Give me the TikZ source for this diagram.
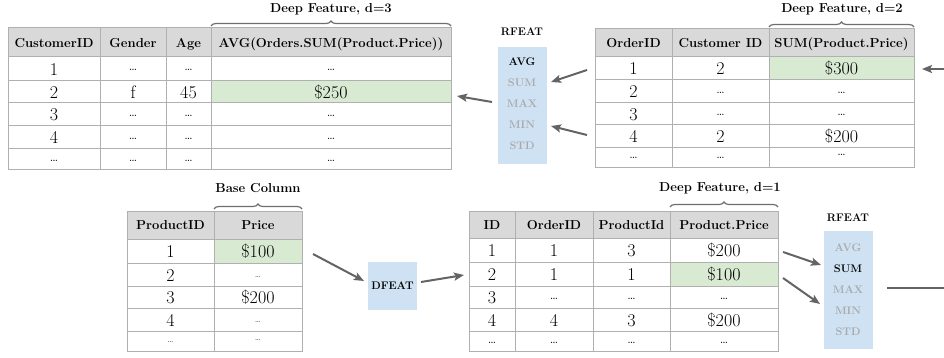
\documentclass[tikz,border=0pt]{standalone}
\usetikzlibrary{arrows.meta,decorations.pathreplacing}
\definecolor{hdrgray}{HTML}{D9D9D9}
\definecolor{gridgray}{HTML}{B0B0B0}
\definecolor{cellgreen}{HTML}{D9EAD3}
\definecolor{opblue}{HTML}{CFE2F3}
\definecolor{offgray}{HTML}{A9A9A9}
\definecolor{arrgray}{HTML}{646464}
\definecolor{bracegray}{HTML}{6E6E6E}
\tikzset{
  hdr/.style={font=\fontsize{13}{15}\selectfont\bfseries, inner sep=0pt, anchor=base},
  val/.style={font=\fontsize{18}{20}\selectfont, inner sep=0pt, anchor=base},
  dts/.style={font=\fontsize{13}{15}\selectfont, inner sep=0pt, anchor=base},
  tdts/.style={font=\fontsize{9}{10}\selectfont, inner sep=0pt, anchor=base},
  grid/.style={draw=gridgray, line width=1pt},
  arr/.style={draw=arrgray, line width=2pt, -{Stealth[length=10pt,width=8pt,inset=2pt]}},
  plainarr/.style={draw=arrgray, line width=2pt},
  brc/.style={decorate, decoration={brace, amplitude=5pt}, draw=bracegray, line width=1.2pt},
  lbl/.style={font=\fontsize{13}{15}\selectfont\bfseries, inner sep=0pt},
  opbox/.style={fill=opblue, draw=none, inner sep=0pt},
  op/.style={font=\fontsize{11}{13}\selectfont\bfseries, inner sep=0pt},
  opoff/.style={op, text=offgray},
}
\begin{document}
\begin{tikzpicture}[x=1pt,y=-1pt]
\useasboundingbox (0,0) rectangle (944,358);

% ---------------- Table 1: Customers ----------------
\fill[hdrgray] (8,28) rectangle (451,57);
\fill[cellgreen] (211,81) rectangle (451,103);
\draw[grid] (8,28) rectangle (451,170);
\foreach \y in {57,81,103,126,149} \draw[grid] (8,\y) -- (451,\y);
\foreach \x in {100,166,211} \draw[grid] (\x,28) -- (\x,170);
\node[hdr] (a-h1) at (54,47.5) {CustomerID};
\node[hdr] (a-h2) at (133,47.5) {Gender};
\node[hdr] (a-h3) at (188.5,47.5) {Age};
\node[hdr] (a-h4) at (331,47.5) {AVG(Orders.SUM(Product.Price))};
\node[val] (a-11) at (54,75.5) {1};
\node[dts] (a-12) at (133,71) {\ldots};
\node[dts] (a-13) at (188.5,71) {\ldots};
\node[dts] (a-14) at (331,71) {\ldots};
\node[val] (a-21) at (54,98.5) {2};
\node[val] (a-22) at (133,98.5) {f};
\node[val] (a-23) at (188.5,98.5) {45};
\node[val] (a-24) at (331,98.5) {\$250};
\node[val] (a-31) at (54,121) {3};
\node[dts] (a-32) at (133,116.5) {\ldots};
\node[dts] (a-33) at (188.5,116.5) {\ldots};
\node[dts] (a-34) at (331,116.5) {\ldots};
\node[val] (a-41) at (54,144) {4};
\node[dts] (a-42) at (133,139.5) {\ldots};
\node[dts] (a-43) at (188.5,139.5) {\ldots};
\node[dts] (a-44) at (331,139.5) {\ldots};
\node[dts] (a-51) at (54,161) {\ldots};
\node[dts] (a-52) at (133,161) {\ldots};
\node[dts] (a-53) at (188.5,161) {\ldots};
\node[dts] (a-54) at (331,161) {\ldots};
\draw[brc] (211,26) -- (451,26);
\node[lbl] (a-lbl) at (331,9) {Deep Feature, d=3};

% ---------------- RFEAT (top) ----------------
\node[opbox, minimum width=49pt, minimum height=117pt] (r1) at (522.5,105.5) {};
\node[op] (r1-t) at (522,32) {RFEAT};
\node[op] (r1-avg) at (522,62) {AVG};
\node[opoff] (r1-sum) at (522,83) {SUM};
\node[opoff] (r1-max) at (522,104) {MAX};
\node[opoff] (r1-min) at (522,125) {MIN};
\node[opoff] (r1-std) at (522,146) {STD};

% ---------------- Table 2: Orders ----------------
\fill[hdrgray] (595,29) rectangle (914,57);
\fill[cellgreen] (769,57) rectangle (914,80);
\draw[grid] (595,29) rectangle (914,168);
\foreach \y in {57,80,103,125,148} \draw[grid] (595,\y) -- (914,\y);
\foreach \x in {672,769} \draw[grid] (\x,29) -- (\x,168);
\node[hdr] (b-h1) at (633.5,48) {OrderID};
\node[hdr] (b-h2) at (720.5,48) {Customer ID};
\node[hdr] (b-h3) at (841.5,48) {SUM(Product.Price)};
\node[val] (b-11) at (633.5,75) {1};
\node[val] (b-12) at (720.5,75) {2};
\node[val] (b-13) at (841.5,75) {\$300};
\node[val] (b-21) at (633.5,98) {2};
\node[dts] (b-22) at (720.5,93.5) {\ldots};
\node[dts] (b-23) at (841.5,93.5) {\ldots};
\node[val] (b-31) at (633.5,120.5) {3};
\node[dts] (b-32) at (720.5,116) {\ldots};
\node[dts] (b-33) at (841.5,116) {\ldots};
\node[val] (b-41) at (633.5,143) {4};
\node[val] (b-42) at (720.5,143) {2};
\node[val] (b-43) at (841.5,143) {\$200};
\node[dts] (b-51) at (633.5,159) {\ldots};
\node[dts] (b-52) at (720.5,159) {\ldots};
\node[dts] (b-53) at (841.5,156) {\ldots};
\draw[brc] (769,27) -- (914,27);
\node[lbl] (b-lbl) at (842,9) {Deep Feature, d=2};

% ---------------- Table 3: Products ----------------
\fill[hdrgray] (127,211) rectangle (302,239);
\fill[cellgreen] (214,239) rectangle (302,263);
\draw[grid] (127,211) rectangle (302,351);
\foreach \y in {239,263,286,308,331} \draw[grid] (127,\y) -- (302,\y);
\draw[grid] (214,211) -- (214,351);
\node[hdr] (c-h1) at (170.5,229.5) {ProductID};
\node[hdr] (c-h2) at (258,229.5) {Price};
\node[val] (c-11) at (170.5,257.5) {1};
\node[val] (c-12) at (258,257.5) {\$100};
\node[val] (c-21) at (170.5,281) {2};
\node[tdts] (c-22) at (258,277) {\ldots};
\node[val] (c-31) at (170.5,303.5) {3};
\node[val] (c-32) at (258,303.5) {\$200};
\node[val] (c-41) at (170.5,326) {4};
\node[tdts] (c-42) at (258,322) {\ldots};
\node[tdts] (c-51) at (170.5,342) {\ldots};
\node[tdts] (c-52) at (258,340) {\ldots};
\draw[brc] (214,209) -- (302,209);
\node[lbl] (c-lbl) at (258,188) {Base Column};

% ---------------- DFEAT ----------------
\node[opbox, minimum width=49pt, minimum height=48pt] (df) at (392.5,286) {};
\node[op] (df-t) at (392.5,286) {DFEAT};

% ---------------- Table 4: Order-Products ----------------
\fill[hdrgray] (469,211) rectangle (778,238);
\fill[cellgreen] (670,262) rectangle (778,286);
\draw[grid] (469,211) rectangle (778,351);
\foreach \y in {238,262,286,308,331} \draw[grid] (469,\y) -- (778,\y);
\foreach \x in {515,593,670} \draw[grid] (\x,211) -- (\x,351);
\node[hdr] (d-h1) at (492,229) {ID};
\node[hdr] (d-h2) at (554,229) {OrderID};
\node[hdr] (d-h3) at (631.5,229) {ProductId};
\node[hdr] (d-h4) at (724,229) {Product.Price};
\node[val] (d-11) at (492,256.5) {1};
\node[val] (d-12) at (554,256.5) {1};
\node[val] (d-13) at (631.5,256.5) {3};
\node[val] (d-14) at (724,256.5) {\$200};
\node[val] (d-21) at (492,280.5) {2};
\node[val] (d-22) at (554,280.5) {1};
\node[val] (d-23) at (631.5,280.5) {1};
\node[val] (d-24) at (724,280.5) {\$100};
\node[val] (d-31) at (492,303.5) {3};
\node[dts] (d-32) at (554,299) {\ldots};
\node[dts] (d-33) at (631.5,299) {\ldots};
\node[dts] (d-34) at (724,299) {\ldots};
\node[val] (d-41) at (492,326) {4};
\node[val] (d-42) at (554,326) {4};
\node[val] (d-43) at (631.5,326) {3};
\node[val] (d-44) at (724,326) {\$200};
\node[dts] (d-51) at (492,343) {\ldots};
\node[dts] (d-52) at (554,343) {\ldots};
\node[dts] (d-53) at (631.5,343) {\ldots};
\node[dts] (d-54) at (724,343) {\ldots};
\draw[brc] (670,207) -- (778,207);
\node[lbl] (d-lbl) at (720,188) {Deep Feature, d=1};

% ---------------- RFEAT (bottom) ----------------
\node[opbox, minimum width=49pt, minimum height=118pt] (r2) at (848.5,290) {};
\node[op] (r2-t) at (848,218) {RFEAT};
\node[opoff] (r2-avg) at (848,248) {AVG};
\node[op] (r2-sum) at (848,269) {SUM};
\node[opoff] (r2-max) at (848,290) {MAX};
\node[opoff] (r2-min) at (848,311) {MIN};
\node[opoff] (r2-std) at (848,332) {STD};

% ---------------- connector end points ----------------
\coordinate (p1s) at (492,102); \coordinate (p1e) at (457,96);
\coordinate (p2s) at (587,70);  \coordinate (p2e) at (551,82);
\coordinate (p3s) at (587,135); \coordinate (p3e) at (551,126);
\coordinate (p4s) at (944,69);  \coordinate (p4e) at (922,69);
\coordinate (q1s) at (313,254); \coordinate (q1e) at (364,281);
\coordinate (q2s) at (421,282); \coordinate (q2e) at (464,275);
\coordinate (q3s) at (783,252); \coordinate (q3e) at (821,265);
\coordinate (q4s) at (783,278); \coordinate (q4e) at (820,304);
\coordinate (q5s) at (887,288); \coordinate (q5e) at (944,288);

\draw[arr] (p1s) -- (p1e);
\draw[arr] (p2s) -- (p2e);
\draw[arr] (p3s) -- (p3e);
\draw[arr] (p4s) -- (p4e);
\draw[arr] (q1s) -- (q1e);
\draw[arr] (q2s) -- (q2e);
\draw[arr] (q3s) -- (q3e);
\draw[arr] (q4s) -- (q4e);
\draw[plainarr] (q5s) -- (q5e);
\end{tikzpicture}
\end{document}
